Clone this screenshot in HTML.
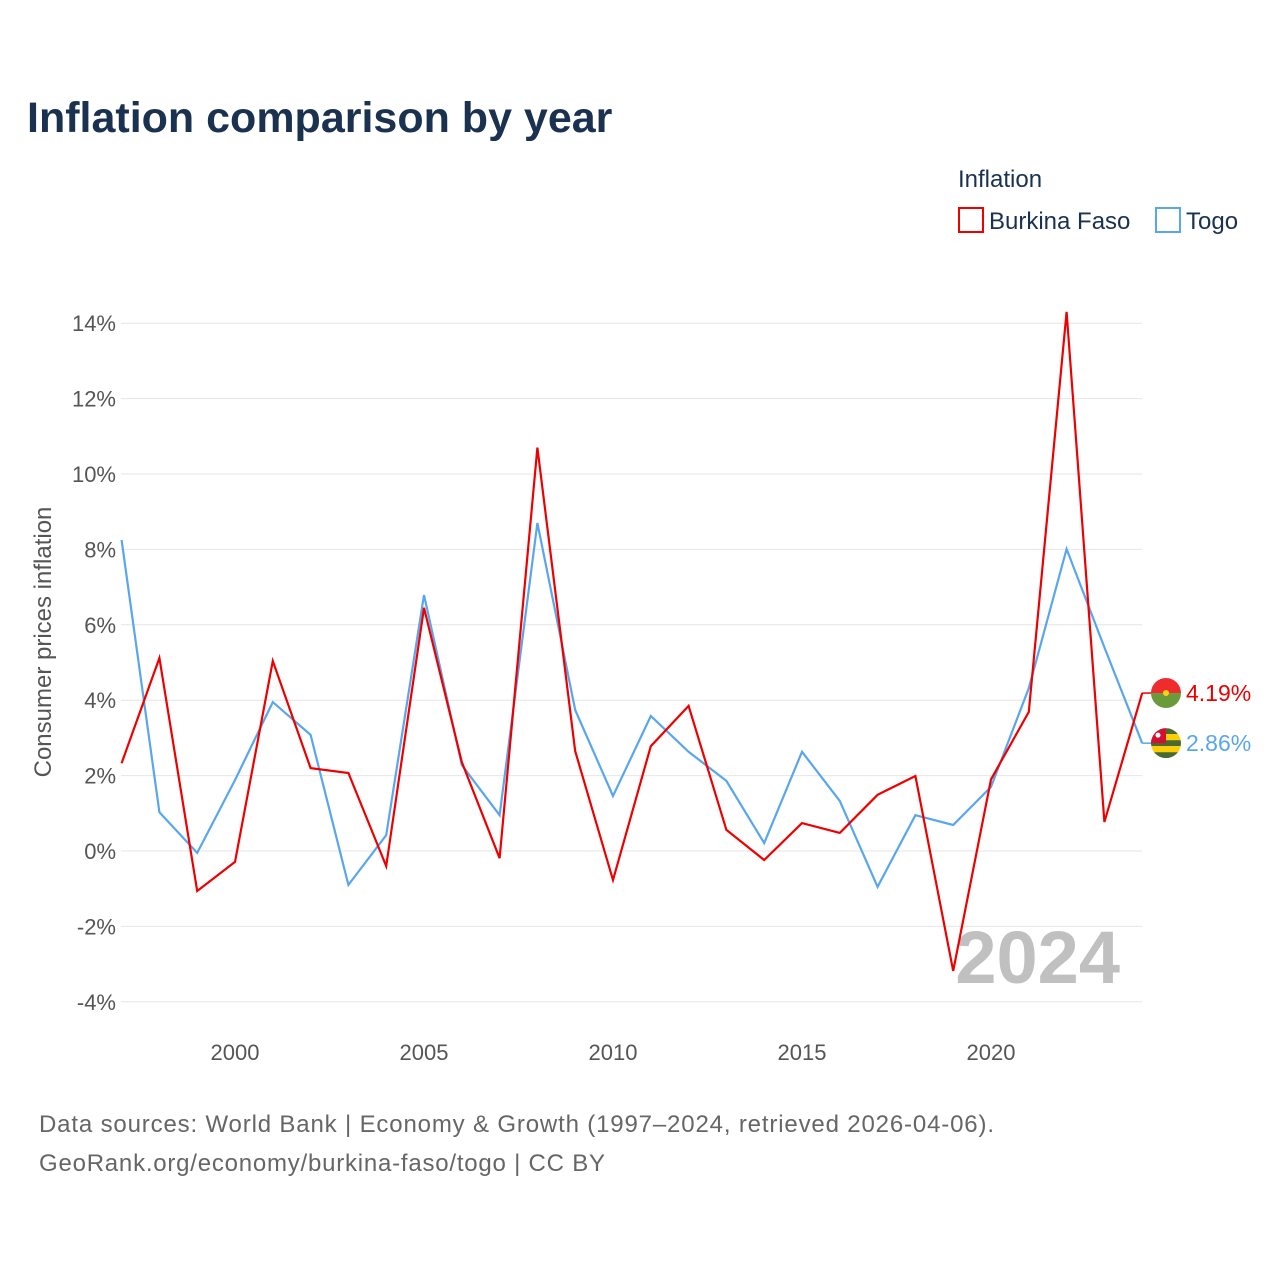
<!DOCTYPE html>
<html><head><meta charset="utf-8"><style>
body{margin:0;background:#fff;font-family:"Liberation Sans",sans-serif;}
</style></head><body>
<svg width="1280" height="1280" viewBox="0 0 1280 1280" xmlns="http://www.w3.org/2000/svg" font-family="Liberation Sans, sans-serif">
<rect width="1280" height="1280" fill="#fff"/>
<text x="27" y="132" font-size="43" font-weight="bold" fill="#1a3150">Inflation comparison by year</text>
<text x="958" y="187" font-size="24" fill="#1a3150">Inflation</text>
<g><rect x="959" y="208" width="24" height="24" fill="none" stroke="#ee0000" stroke-width="2"/><text x="989" y="229" font-size="24" fill="#1a3150">Burkina Faso</text></g>
<g><rect x="1156" y="208" width="24" height="24" fill="none" stroke="#5aa6ee" stroke-width="2"/><text x="1186" y="229" font-size="24" fill="#1a3150">Togo</text></g>
<g id="grid"></g>
<g id="yticks"></g>
<g id="xticks"></g>
<text x="0" y="0" transform="translate(51,642) rotate(-90)" text-anchor="middle" font-size="24" fill="#555">Consumer prices inflation</text>
<text x="1120" y="983" text-anchor="end" font-size="74" font-weight="bold" fill="#c0c0c0">2024</text>
<g id="series"></g>
<text x="39" y="1132" font-size="24" fill="#666" textLength="955">Data sources: World Bank | Economy &amp; Growth (1997–2024, retrieved 2026-04-06).</text>
<text x="39" y="1171" font-size="24" fill="#666" textLength="566">GeoRank.org/economy/burkina-faso/togo | CC BY</text>
</svg>
<script>
const years=[1997,1998,1999,2000,2001,2002,2003,2004,2005,2006,2007,2008,2009,2010,2011,2012,2013,2014,2015,2016,2017,2018,2019,2020,2021,2022,2023,2024];
const burkina=[2.33,5.12,-1.06,-0.29,5.04,2.2,2.07,-0.4,6.45,2.36,-0.19,10.7,2.65,-0.77,2.78,3.85,0.56,-0.24,0.74,0.48,1.49,1.99,-3.18,1.9,3.69,14.3,0.77,4.19];
const togo=[8.25,1.03,-0.05,1.88,3.95,3.08,-0.9,0.42,6.79,2.28,0.95,8.7,3.74,1.46,3.58,2.63,1.86,0.21,2.63,1.33,-0.95,0.95,0.69,1.7,4.32,8.01,5.4,2.86];
const yTicks=[-4,-2,0,2,4,6,8,10,12,14];
const xTicks=[2000,2005,2010,2015,2020];
const NS='http://www.w3.org/2000/svg';
const xs=y=>235+(y-2000)*37.8;
const ys=v=>851-v*37.7;
function mk(t,a,p){const e=document.createElementNS(NS,t);for(const k in a)e.setAttribute(k,a[k]);p.appendChild(e);return e;}
const grid=document.getElementById('grid'),yt=document.getElementById('yticks'),xt=document.getElementById('xticks'),ser=document.getElementById('series');
yTicks.forEach(v=>{
 const l=mk('line',{x1:121,x2:1142,y1:ys(v),y2:ys(v),stroke:'#e6e6e6','stroke-width':1},grid);
 
 
 const t=mk('text',{x:116,y:ys(v)+8,'text-anchor':'end','font-size':22,fill:'#555'},yt);
 t.textContent=v+'%';
 
 
});
xTicks.forEach(v=>{
 const t=mk('text',{x:xs(v),y:1060,'text-anchor':'middle','font-size':22,fill:'#555'},xt);
 t.textContent=v;
 
 
});
function line(vals,col,name){
 const d=vals.map((v,i)=>(i?'L':'M')+xs(years[i]).toFixed(1)+','+ys(v).toFixed(1)).join('');
 const p=mk('path',{d:d,fill:'none',stroke:col,'stroke-width':2.2,'stroke-linejoin':'miter'},ser);
 
 
}
line(togo,'#5aa6ee','togo-line');
line(burkina,'#ee0000','burkina-faso-line');
function endLabel(v,col,name,flag){
 const x0=xs(years[years.length-1]),y0=ys(v);
 const ly=y0;
 mk('path',{d:`M${x0},${y0}L1152,${ly}`,fill:'none',stroke:col,'stroke-width':1.5},ser);
 const g=mk('g',{},ser);
 
 
 const cx=1166;
 const cp=mk('clipPath',{id:'c'+name},g);mk('circle',{cx:cx,cy:ly,r:15},cp);
 const gg=mk('g',{'clip-path':'url(#c'+name+')'},g);
 if(flag==='bf'){mk('rect',{x:cx-15,y:ly-15,width:30,height:15,fill:'#ef2b2d'},gg);mk('rect',{x:cx-15,y:ly,width:30,height:15,fill:'#6a9a3a'},gg);mk('circle',{cx:cx,cy:ly,r:3,fill:'#fcd116'},gg);}
 else{for(let i=0;i<5;i++)mk('rect',{x:cx-15,y:ly-15+i*6,width:30,height:6,fill:i%2?'#ffce00':'#4a6b2e'},gg);mk('rect',{x:cx-15,y:ly-15,width:15,height:15,fill:'#d21034'},gg);mk('circle',{cx:cx-8,cy:ly-8,r:2.5,fill:'#fff'},gg);}
 const t=mk('text',{x:1186,y:ly+8,'font-size':23,fill:col},ser);
 t.textContent=v.toFixed(2)+'%';
 
 
}
endLabel(burkina[burkina.length-1],'#ee0000','burkina-label','bf');
endLabel(togo[togo.length-1],'#5aa6ee','togo-label','tg');
</script>
</body></html>
